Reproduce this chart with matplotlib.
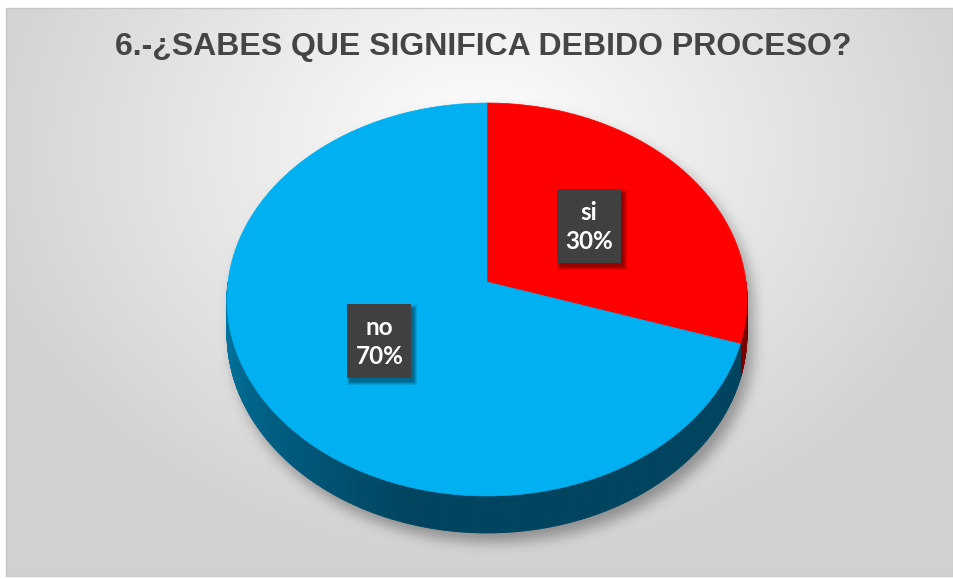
import numpy as np
import matplotlib
matplotlib.use("Agg")
import matplotlib.pyplot as plt
from matplotlib.patches import Polygon, Rectangle
from matplotlib.collections import PolyCollection
from matplotlib.colors import to_rgb

# ------------------------------------------------------------
# data
# ------------------------------------------------------------
TITLE = "6.-¿SABES QUE SIGNIFICA DEBIDO PROCESO?"
labels = ["si", "no"]
percents = [30, 70]
top_colors = ["#FF0000", "#00B0F0"]
side_dark = ["#7A0000", "#00445F"]
side_light = ["#B00000", "#0079A6"]

# ------------------------------------------------------------
# layout (pixel space, y down)
# ------------------------------------------------------------
FIG_W, FIG_H = 954, 579
CX, CY = 487, 282          # pie centre on screen
A, B = 259.0, 194.9        # semi axes
K = 0.089                  # perspective strength
D0 = 33.7                  # depth of the cylinder side


def proj(theta_deg, r=1.0, drop=0.0):
    t = np.radians(theta_deg)
    X = r * np.sin(t)
    Y = -r * np.cos(t)
    w = 1 - K * Y
    return CX + A * X / w, CY + B * Y / w + drop / w


def inside_top(u, v):
    # inverse of proj for the top disc
    Y = (v - CY) / (B + K * (v - CY))
    X = (u - CX) * (1 - K * Y) / A
    return X ** 2 + Y ** 2 <= 1.0


def box_blur(a, r, passes=3):
    k = 2 * r + 1
    for _ in range(passes):
        p = np.pad(a, ((r, r), (0, 0)), mode="edge")
        c = np.vstack([np.zeros((1, a.shape[1])), np.cumsum(p, axis=0)])
        a = (c[k:] - c[:-k]) / k
        p = np.pad(a, ((0, 0), (r, r)), mode="edge")
        c = np.hstack([np.zeros((a.shape[0], 1)), np.cumsum(p, axis=1)])
        a = (c[:, k:] - c[:, :-k]) / k
    return a


# background: radial grey gradient + soft shadow of the pie
yy, xx = np.mgrid[0:FIG_H, 0:FIG_W] + 0.5
d = np.sqrt(((xx - 480) / 520) ** 2 + ((yy - 150) / 420) ** 2)
bg = 1.0 - 0.18 * np.clip(d, 0, 1)

mask = np.zeros((FIG_H, FIG_W), dtype=float)
for s in np.linspace(0, 38, 20):
    mask = np.maximum(mask, inside_top(xx - 6, yy - 8 - s).astype(float))
shadow = box_blur(mask, 6)
bg = bg - 0.28 * shadow

outside = (xx < 6) | (yy < 8) | (yy > 576)
bg[outside] = 1.0
rgb = np.dstack([bg, bg, bg])

fig = plt.figure(figsize=(FIG_W / 100, FIG_H / 100), dpi=100)
ax = fig.add_axes([0, 0, 1, 1])
ax.set_xlim(0, FIG_W)
ax.set_ylim(FIG_H, 0)
ax.axis("off")
ax.imshow(rgb, extent=(0, FIG_W, FIG_H, 0), interpolation="bilinear", zorder=0)
ax.add_patch(Rectangle((6, 8), FIG_W - 7, 568, fill=False, ec="#c8c8c8", lw=1, zorder=1))

# slice angles, clockwise from 12 o'clock
fracs = np.array(percents, dtype=float) / sum(percents)
starts = np.concatenate([[0], np.cumsum(fracs)[:-1]]) * 360
ends = starts + fracs * 360

# side of the cylinder (front half only)
polys, cols = [], []
for st, en, dk, lt in zip(starts, ends, side_dark, side_light):
    a0, a1 = max(st, 90), min(en, 270)
    if a1 <= a0:
        continue
    edges = np.linspace(a0, a1, int((a1 - a0) * 2) + 2)
    for t0, t1 in zip(edges[:-1], edges[1:]):
        x0, y0 = proj(t0)
        x1, y1 = proj(t1)
        x0b, y0b = proj(t0, drop=D0)
        x1b, y1b = proj(t1, drop=D0)
        polys.append([(x0, y0), (x1, y1), (x1b, y1b), (x0b, y0b)])
        tm = 0.5 * (t0 + t1)
        f = np.clip((tm - 195) / 75, 0, 1)  # lighter toward the left edge
        c = np.array(to_rgb(dk)) * (1 - f) + np.array(to_rgb(lt)) * f
        cols.append(c)
ax.add_collection(PolyCollection(polys, facecolors=cols, edgecolors=cols, lw=0.6, zorder=2))

# top faces
for st, en, col in zip(starts, ends, top_colors):
    th = np.linspace(st, en, 200)
    px, py = proj(th)
    pts = [(CX, CY)] + list(zip(px, py))
    ax.add_patch(Polygon(pts, closed=True, fc=col, ec=col, lw=0.5, zorder=3))

# data labels
BOX_W, BOX_H = 64, 74
for st, en, lab, p in zip(starts, ends, labels, percents):
    lx, ly = proj(0.5 * (st + en), r=0.5)
    for i, al in enumerate([0.10, 0.10, 0.12, 0.15]):
        o = 4 - i
        ax.add_patch(Rectangle((lx - BOX_W / 2 + 3 - o + 1, ly - BOX_H / 2 + 3 - o + 2),
                               BOX_W + 2 * o - 2, BOX_H + 2 * o - 2,
                               fc="black", ec="none", alpha=al, zorder=4))
    ax.add_patch(Rectangle((lx - BOX_W / 2, ly - BOX_H / 2), BOX_W, BOX_H,
                           fc="#404040", ec="none", zorder=5))
    ax.text(lx, ly + 1, f"{lab}\n{p}%", ha="center", va="center", color="white",
            fontsize=17.5, fontweight="bold", family="Lato", linespacing=1.3, zorder=6)

# title
ax.text(483, 47, TITLE, ha="center", va="center", color="#454545",
        fontsize=23, fontweight="bold", family=["Liberation Sans Narrow", "Liberation Sans"],
        zorder=6)

fig.savefig("out.png", dpi=100)
